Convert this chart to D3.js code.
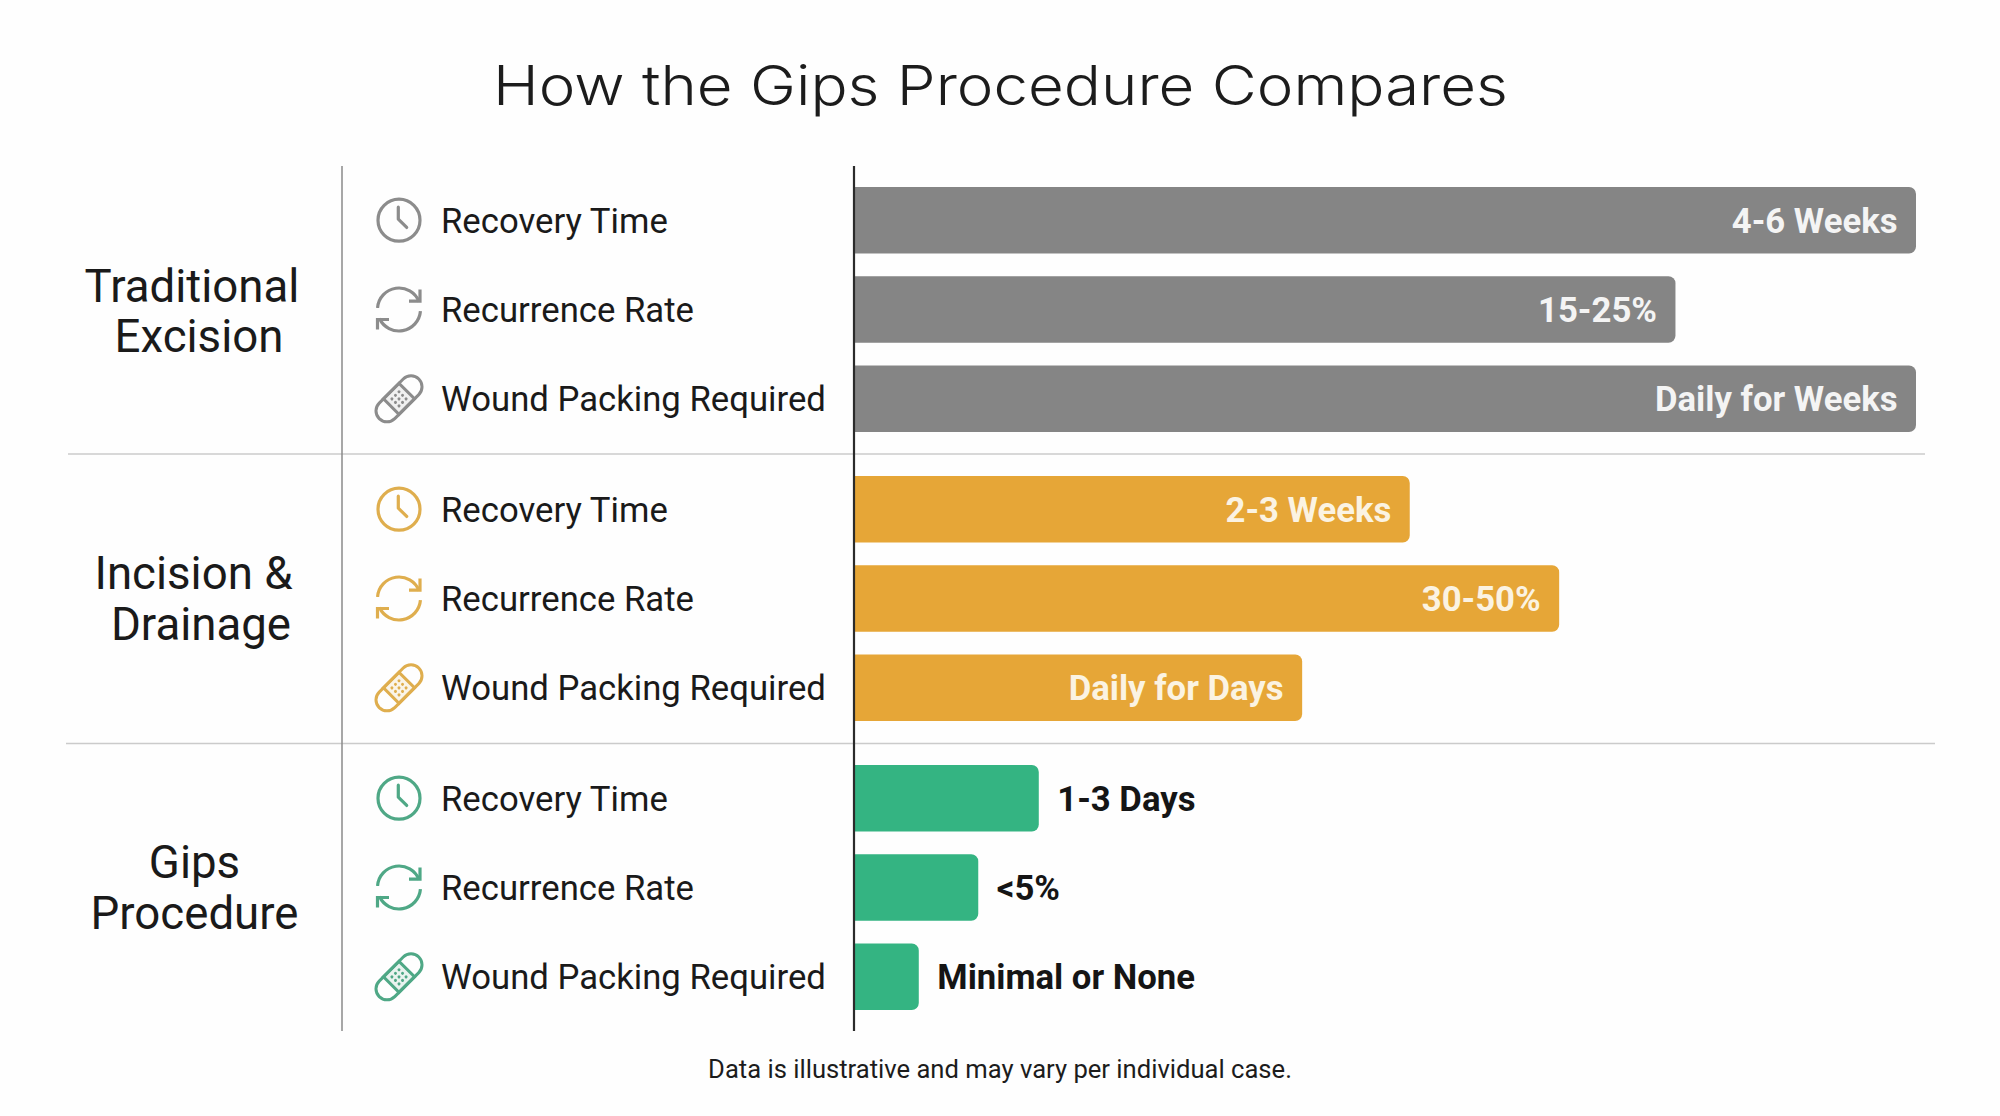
<!DOCTYPE html>
<html><head><meta charset="utf-8">
<script src="https://cdn.jsdelivr.net/npm/d3@7/dist/d3.min.js"></script>
<style>html,body{margin:0;padding:0;background:#fefefe}svg{display:block}</style>
</head><body><div id="chart"></div>
<script>
const titleText = "How the Gips Procedure Compares";
const footnote = "Data is illustrative and may vary per individual case.";
const groups = ["Traditional Excision", "Incision & Drainage", "Gips Procedure"];
const groupLines = [["Traditional","Excision"],["Incision &","Drainage"],["Gips","Procedure"]];
const metrics = ["Recovery Time", "Recurrence Rate", "Wound Packing Required"];
const traditional = [100, 77.35, 100];
const incision = [52.33, 66.4, 42.2];
const gips = [17.4, 11.7, 6.1];
const traditionalLabels = ["4-6 Weeks", "15-25%", "Daily for Weeks"];
const incisionLabels = ["2-3 Weeks", "30-50%", "Daily for Days"];
const gipsLabels = ["1-3 Days", "<5%", "Minimal or None"];
const colors = ["#858585", "#E6A637", "#34B482"];
const iconColors = ["#8c8c8c", "#DFAE4E", "#4FA886"];
const valueColors = ["#f4f4f4", "#FBF3E2", "#151515"];
const seriesValues = [traditional, incision, gips];
const seriesLabels = [traditionalLabels, incisionLabels, gipsLabels];

const W = 2000, H = 1116;
const svg = d3.select("#chart").append("svg").attr("width", W).attr("height", H).attr("viewBox", `0 0 ${W} ${H}`);
svg.append("rect").attr("width", W).attr("height", H).attr("fill", "#fefefe");

const x = d3.scaleLinear().domain([0, 100]).range([854, 1916]);
const yGroup = d3.scaleBand().domain(groups).range([165, 1032]);
const yRow = d3.scaleBand().domain(metrics).range([10.5, 278.5]).paddingInner(0.255).paddingOuter(0.1275);

svg.append("text").attr("x", 1000.5).attr("y", 105).attr("text-anchor", "middle")
  .attr("font-family", "Inter").attr("font-size", 55).attr("font-weight", 300).attr("fill", "#1c1c1c")
  .attr("textLength", 1015).attr("lengthAdjust", "spacingAndGlyphs").text(titleText);

// separators
[[454, 68, 1925], [743.5, 66, 1935]].forEach(([y, a, b]) => svg.append("line").attr("x1", a).attr("x2", b).attr("y1", y).attr("y2", y).attr("stroke", "#cbcbcb").attr("stroke-width", 1.5));
svg.append("line").attr("x1", 342).attr("x2", 342).attr("y1", 166).attr("y2", 1031).attr("stroke", "#8a8a8a").attr("stroke-width", 1.5);

function drawClock(g, c) {
  g.append("circle").attr("r", 21).attr("fill", "none").attr("stroke", c).attr("stroke-width", 3.2);
  g.append("path").attr("d", "M-0.7,-13 L-0.7,-1 L7.7,7.3").attr("fill", "none").attr("stroke", c).attr("stroke-width", 3.2).attr("stroke-linecap", "round").attr("stroke-linejoin", "round");
}
function drawCycle(g, c) {
  const a = d3.arc().innerRadius(21.5).outerRadius(21.5);
  const s = (d) => g.append("path").attr("d", d).attr("fill", "none").attr("stroke", c).attr("stroke-width", 3.2);
  s(a({startAngle: -1.5, endAngle: 1.2}));
  s(a({startAngle: 1.65, endAngle: 4.28}));
  s("M21,-20 L21,-8.3 L10,-8.3");
  s("M-21.5,20 L-21.5,10 L-10,10");
}
function drawBandage(g, c) {
  const b = g.append("g").attr("transform", "rotate(-45)");
  b.append("rect").attr("x", -28).attr("y", -11).attr("width", 56).attr("height", 22).attr("rx", 11).attr("fill", "none").attr("stroke", c).attr("stroke-width", 3);
  b.append("rect").attr("x", -11).attr("y", -11).attr("width", 22).attr("height", 22).attr("fill", c).attr("fill-opacity", 0.12).attr("stroke", c).attr("stroke-width", 3);
  [-5, 0, 5].forEach(dx => [-5, 0, 5].forEach(dy => b.append("circle").attr("cx", dx).attr("cy", dy).attr("r", 1.5).attr("fill", c)));
}
const icons = [drawClock, drawCycle, drawBandage];

function barPath(x0, x1, y, h, r) {
  const p = d3.path();
  p.moveTo(x0, y);
  p.lineTo(x1 - r, y);
  p.arcTo(x1, y, x1, y + r, r);
  p.lineTo(x1, y + h - r);
  p.arcTo(x1, y + h, x1 - r, y + h, r);
  p.lineTo(x0, y + h);
  p.closePath();
  return p.toString();
}

const groupLabelCenters = [[192, 199], [193.5, 201], [194.5, 194.5]];
const groupLabelBaselines = [[301.7, 352.3], [589, 640], [878, 928.5]];

groups.forEach((grp, gi) => {
  const g0 = yGroup(grp);
  const lab = svg.append("text").attr("text-anchor", "middle").attr("font-family", "Roboto").attr("font-size", 45.6).attr("fill", "#1a1a1a");
  groupLines[gi].forEach((t, i) => lab.append("tspan").attr("x", groupLabelCenters[gi][i]).attr("y", groupLabelBaselines[gi][i]).text(t));

  metrics.forEach((m, mi) => {
    const yTop = g0 + yRow(m), h = yRow.bandwidth(), cy = yTop + h / 2;
    const ic = svg.append("g").attr("transform", `translate(399,${cy})`);
    icons[mi](ic, iconColors[gi]);
    svg.append("text").attr("x", 441).attr("y", cy).attr("dy", "0.36em").attr("font-family", "Roboto").attr("font-size", 34.7).attr("fill", "#1a1a1a").text(m);
    const v = seriesValues[gi][mi], xEnd = x(v);
    svg.append("path").attr("d", barPath(x(0), xEnd, yTop, h, 7)).attr("fill", colors[gi]);
    const inside = gi < 2;
    svg.append("text").attr("x", inside ? xEnd - 18.5 : xEnd + 18.5).attr("y", cy).attr("dy", "0.36em")
      .attr("text-anchor", inside ? "end" : "start").attr("font-family", "Roboto").attr("font-weight", 700).attr("font-size", 34.7)
      .attr("fill", valueColors[gi]).text(seriesLabels[gi][mi]);
  });
});

svg.append("line").attr("x1", 854).attr("x2", 854).attr("y1", 166).attr("y2", 1031).attr("stroke", "#2b2b2b").attr("stroke-width", 2.2);
svg.append("text").attr("x", 1000).attr("y", 1078).attr("text-anchor", "middle").attr("font-family", "Roboto").attr("font-size", 25.6).attr("fill", "#1c1c1c").text(footnote);
</script></body></html>
